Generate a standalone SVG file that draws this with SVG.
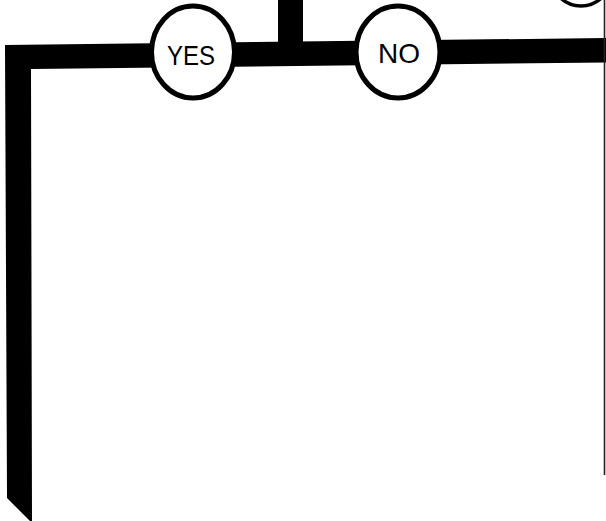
<svg xmlns="http://www.w3.org/2000/svg" width="606" height="521" viewBox="0 0 606 521">
  <style>
    .bar { fill: #000; stroke: none; }
    .node { fill: #fff; stroke: #000; stroke-width: 5; }
    .label { font-family: "Liberation Sans", "DejaVu Sans", sans-serif; font-size: 28px; fill: #000; text-anchor: middle; }
    .thin { stroke: #222; stroke-width: 1.6; fill: none; }
  </style>
  <rect width="606" height="521" fill="#fff"/>
  <g id="connectors">
    <path class="bar" d="M5,45 L606,38 L606,62.5 L31,69 L32,521 L30,521 L7,498 Z"/>
    <rect class="bar" x="278" y="0" width="25" height="46"/>
    <line class="thin" x1="604.5" y1="0" x2="604.5" y2="475"/>
  </g>
  <g id="node-top-right">
    <circle cx="581" cy="-24" r="30" fill="#fff" stroke="#000" stroke-width="3.5"/>
  </g>
  <g id="node-yes">
    <ellipse class="node" cx="193" cy="52" rx="41.5" ry="46"/>
    <text class="label" x="191" y="65" textLength="48" lengthAdjust="spacingAndGlyphs">YES</text>
  </g>
  <g id="node-no">
    <ellipse class="node" cx="398" cy="52" rx="42" ry="46"/>
    <text class="label" x="399" y="63">NO</text>
  </g>
</svg>
